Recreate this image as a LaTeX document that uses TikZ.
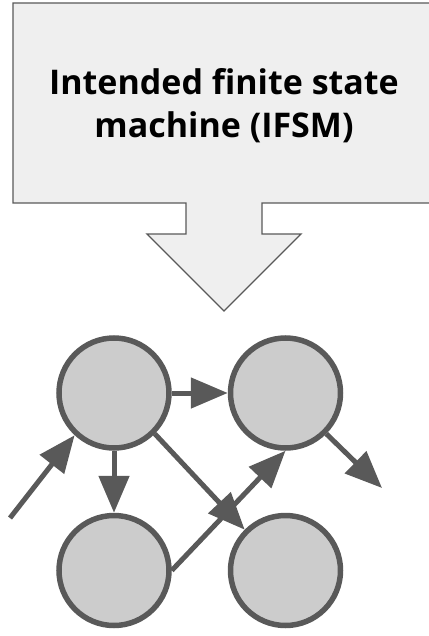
\documentclass[tikz,border=0pt]{standalone}
\usepackage{fontspec}
\setmainfont{Open Sans}
\usetikzlibrary{positioning,arrows.meta}
\definecolor{edgegray}{HTML}{595959}
\definecolor{circfill}{HTML}{CCCCCC}
\definecolor{boxfill}{HTML}{EFEFEF}

\begin{document}
\begin{tikzpicture}[x=1pt, y=-1pt,
    state/.style={circle, draw=edgegray, fill=circfill, line width=5.5pt, minimum size=110pt, inner sep=0pt},
    trans/.style={color=edgegray, line width=5pt, -{Triangle[length=37pt,width=30pt]}}]
  \useasboundingbox (0,0) rectangle (428,636);
  \draw[edgegray, line width=1.3pt, fill=boxfill]
    (13,3) -- (436,3) -- (436,203) -- (262,203) -- (262,234) -- (301,234) -- (224,311)
    -- (147,234) -- (186,234) -- (186,203) -- (13,203) -- cycle;
  \node[align=center, font=\fontsize{34}{43}\selectfont\bfseries] (title) at (224,106)
    {Intended finite state\\machine (IFSM)};
  \node[state] (s1) at (114,393) {};
  \node[state] (s2) [right=56pt of s1] {};
  \node[state] (s3) [below=62pt of s1] {};
  \node[state] (s4) [right=56pt of s3] {};
  \coordinate (in) at (10,518);
  \coordinate (out) at (382,488);
  \draw[trans] (in) -- (s1.227);
  \draw[trans] (s1) -- (s2);
  \draw[trans] (s1) -- (s3);
  \draw[trans] (s1.-45) -- (s4.135);
  \draw[trans] (s3.east) -- (s2.south);
  \draw[trans] (s2.-45) -- (out);
\end{tikzpicture}
\end{document}
